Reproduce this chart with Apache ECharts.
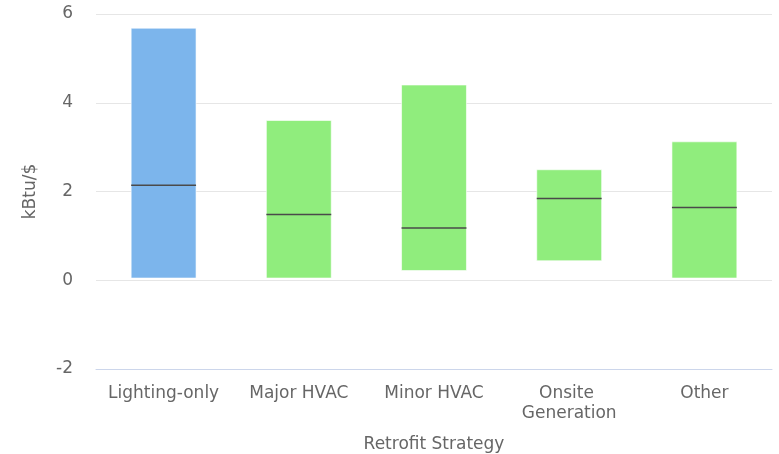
<!DOCTYPE html>
<html>
<head>
<meta charset="utf-8">
<script src="https://cdn.jsdelivr.net/npm/echarts@6/dist/echarts.min.js"></script>
<style>
  html, body { margin: 0; padding: 0; background: #fff; }
  #chart { width: 779px; height: 454px; }
</style>
</head>
<body>
<div id="chart"></div>
<script>
// Datos (kBtu/$)
const categories = ['Lighting-only', 'Major HVAC', 'Minor HVAC', 'Onsite Generation', 'Other'];
const lowValues = [0.05, 0.05, 0.22, 0.44, 0.05];
const medianValues = [2.14, 1.48, 1.18, 1.84, 1.64];
const highValues = [5.68, 3.60, 4.40, 2.49, 3.12];
const barColors = ['#7cb5ec', '#90ed7d', '#90ed7d', '#90ed7d', '#90ed7d'];
const yTicks = [-2, 0, 2, 4, 6];

const chart = echarts.init(document.getElementById('chart'));

const seriesData = categories.map((c, i) => [i, lowValues[i], medianValues[i], highValues[i]]);

// Dibuja la barra de rango y la línea de la mediana
const renderBox = (params, api) => {
  const idx = api.value(0);
  const low = api.coord([idx, api.value(1)]);
  const med = api.coord([idx, api.value(2)]);
  const high = api.coord([idx, api.value(3)]);
  const w = api.size([1, 0])[0] * 0.48;
  const x = low[0] - w / 2;
  return {
    type: 'group',
    children: [
      {
        type: 'rect',
        shape: { x: x, y: high[1], width: w, height: low[1] - high[1] },
        style: { fill: barColors[idx], stroke: 'rgba(255,255,255,0.6)', lineWidth: 1 }
      },
      {
        type: 'line',
        shape: { x1: x, y1: med[1], x2: x + w, y2: med[1] },
        style: { stroke: '#4a4a4a', lineWidth: 1.5 }
      }
    ]
  };
};

chart.setOption({
  animation: false,
  textStyle: { fontFamily: 'DejaVu Sans' },
  grid: { left: 96, right: 7, top: 14, bottom: 85, outerBoundsMode: 'none' },
  xAxis: {
    type: 'category',
    data: categories,
    name: 'Retrofit Strategy',
    nameLocation: 'middle',
    nameGap: 67,
    nameTextStyle: { color: '#666', fontSize: 17 },
    axisLine: { onZero: false, lineStyle: { color: '#ccd6eb' } },
    axisTick: { show: false },
    axisLabel: {
      color: '#666',
      fontSize: 17,
      margin: 15,
      lineHeight: 20,
      width: 125,
      overflow: 'break',
      interval: 0
    }
  },
  yAxis: {
    type: 'value',
    min: yTicks[0],
    max: yTicks[yTicks.length - 1],
    interval: 2,
    name: 'kBtu/$',
    nameLocation: 'middle',
    nameGap: 57,
    nameTextStyle: { color: '#666', fontSize: 17 },
    axisLine: { show: false },
    axisTick: { show: false },
    axisLabel: { color: '#666', fontSize: 17, margin: 23 },
    splitLine: {
      lineStyle: { color: '#e6e6e6' },
      showMinLine: false
    }
  },
  series: [
    {
      type: 'custom',
      renderItem: renderBox,
      encode: { x: 0, y: [1, 2, 3] },
      data: seriesData
    }
  ]
});
</script>
</body>
</html>
